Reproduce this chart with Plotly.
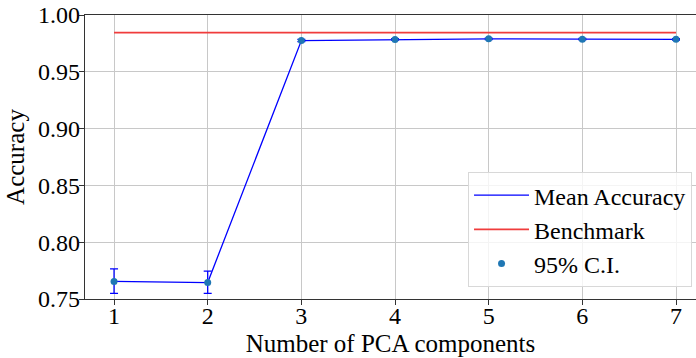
import plotly.graph_objects as go

components = [1, 2, 3, 4, 5, 6, 7]
mean_acc = [0.7655, 0.7645, 0.9775, 0.9785, 0.9790, 0.9787, 0.9786]
ci_upper = [0.7765, 0.7745, 0.9785, 0.9792, 0.9796, 0.9793, 0.9792]
ci_lower = [0.7550, 0.7550, 0.9765, 0.9778, 0.9784, 0.9781, 0.9780]
benchmark = 0.9845

err_plus = [u - m for u, m in zip(ci_upper, mean_acc)]
err_minus = [m - l for m, l in zip(mean_acc, ci_lower)]

font_family = "Liberation Serif"

fig = go.Figure()
fig.add_trace(go.Scatter(
    x=components, y=mean_acc, mode="lines", name="Mean Accuracy",
    line=dict(color="blue", width=1.3),
))
fig.add_trace(go.Scatter(
    x=[components[0], components[-1]], y=[benchmark, benchmark], mode="lines",
    name="Benchmark", line=dict(color="#f03c3c", width=1.6),
))
fig.add_trace(go.Scatter(
    x=components, y=mean_acc, mode="markers", name="95% C.I.",
    marker=dict(color="#1f77b4", size=7),
    error_y=dict(type="data", symmetric=False, array=err_plus, arrayminus=err_minus,
                 color="blue", thickness=1.3, width=4),
))

fig.update_layout(
    width=696, height=358,
    margin=dict(l=85, r=0, t=15, b=59),
    plot_bgcolor="white", paper_bgcolor="white",
    font=dict(family=font_family, size=24, color="black"),
    showlegend=True,
    legend=dict(
        x=0.9935, y=0.042, xanchor="right", yanchor="bottom",
        bgcolor="rgba(255,255,255,0.8)", bordercolor="#d8d8d8", borderwidth=1,
        font=dict(family=font_family, size=24),
        tracegroupgap=0, itemwidth=55,
    ),
    xaxis=dict(
        range=[0.69, 7.2135], tickmode="array", tickvals=components,
        ticktext=[str(c) for c in components],
        showgrid=True, gridcolor="#c8c8c8", gridwidth=1,
        showline=True, linecolor="#333333", linewidth=1.3, mirror=True,
        ticks="outside", ticklen=5, tickcolor="#333333",
        ticklabelstandoff=-10,
        zeroline=False,
        title=dict(text="Number of PCA components", font=dict(family=font_family, size=25), standoff=6),
        tickfont=dict(family=font_family, size=24),
    ),
    yaxis=dict(
        range=[0.75, 1.0], tickmode="array",
        tickvals=[0.75, 0.80, 0.85, 0.90, 0.95, 1.00],
        ticktext=["0.75", "0.80", "0.85", "0.90", "0.95", "1.00"],
        showgrid=True, gridcolor="#c8c8c8", gridwidth=1,
        showline=True, linecolor="#333333", linewidth=1.3,
        ticks="outside", ticklen=5, tickcolor="#333333",
        ticklabelstandoff=-6,
        zeroline=False,
        title=dict(text="Accuracy", font=dict(family=font_family, size=25), standoff=6),
        tickfont=dict(family=font_family, size=24),
    ),
)

fig.write_html("out.html")
